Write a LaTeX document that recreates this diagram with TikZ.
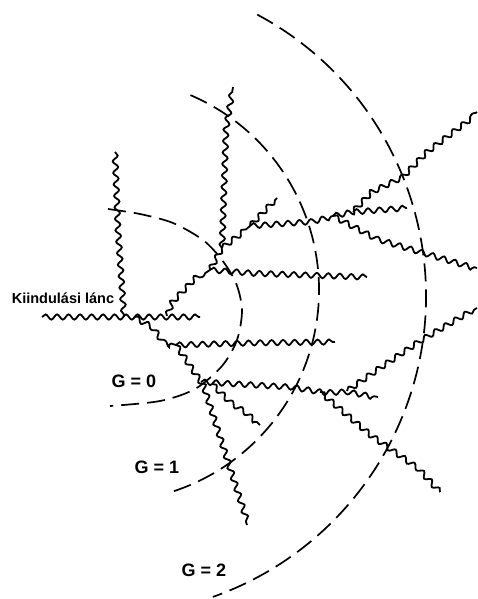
\documentclass[tikz,border=0pt]{standalone}
\usepackage{fontspec}
\setmainfont{Liberation Sans}
\usetikzlibrary{decorations.pathmorphing}

\begin{document}
\begin{tikzpicture}[x=1pt, y=-1pt,
    wavy/.style={decorate, decoration={snake, segment length=11.5pt, amplitude=2.6pt}, line width=1.8pt},
    genarc/.style={dash pattern=on 18pt off 8pt, line width=1.7pt},
    lbl/.style={font=\bfseries\fontsize{18}{20}\selectfont}]
    \useasboundingbox (0,0) rectangle (477,599);

    % elagazasi pontok
    \coordinate (i0) at (42,317);   % kiindulasi lanc eleje
    \coordinate (i1) at (124,317);  % ide fut be a bal fuggoleges lanc
    \coordinate (i2) at (134,317);  % innen indul le a lanc
    \coordinate (i3) at (167,316);  % innen indul fel a lanc
    \coordinate (i4) at (200,317);  % kiindulasi lanc vege
    \coordinate (j1) at (176,345);
    \coordinate (j2) at (201,382);
    \coordinate (j3) at (210,270);
    \coordinate (j4) at (222,248);
    \coordinate (j5) at (320,392);
    \coordinate (j6) at (250,226);
    \coordinate (j7) at (333,216);
    \coordinate (j8) at (353,212);
    \coordinate (j9) at (347,391);
    \coordinate (j10) at (212,384);

    % G = 0, 1, 2 hatarok (szaggatott ivek)
    \draw[genarc] plot[smooth] coordinates {(108,209) (140,214) (173,223) (203,240) (222,260) (236,283) (242,310) (237,340) (222,366) (195,389) (160,401) (110,406)};
    \draw[genarc] (107,290) ++(-66.8:212) arc[start angle=-66.8, end angle=72, radius=212];
    \draw[genarc] (107,296) ++(-61.9:319) arc[start angle=-61.9, end angle=70.6, radius=319];

    % kiindulasi lanc
    \draw[wavy] (i0) -- (i4);
    \draw[wavy] (115,152) -- (118,230) -- (i1); % bal fuggoleges lanc

    % lefele indulo ag
    \draw[wavy] (i2) -- (150,326) -- (160,340) -- (j1);
    \draw[wavy] (j1) -- (250,343) -- (335,342);
    \draw[wavy] (j1) -- (j2) -- (247,525);
    \draw[wavy] (j2) -- (290,387) -- (j5) -- (j9) -- (378,397);
    \draw[wavy] (j10) -- (228,400) -- (245,411) -- (260,425);
    \draw[wavy] (j5) -- (367,432) -- (417,467) -- (440,492);
    \draw[wavy] (j9) -- (377,370) -- (417,343) -- (477,308);

    % felfele indulo ag
    \draw[wavy] (i3) -- (172,303) -- (193,281) -- (j3);
    \draw[wavy] (j3) -- (250,273) -- (367,277);
    \draw[wavy] (j3) -- (j4);
    \draw[wavy] (j4) -- (226,130) -- (233,87); % jobb fuggoleges lanc
    \draw[wavy] (j4) -- (238,236) -- (j6);
    \draw[wavy] (j6) -- (277,198);
    \draw[wavy] (j6) -- (307,222) -- (j7);
    \draw[wavy] (j7) -- (j8) -- (373,191) -- (400,178) -- (427,150) -- (477,112);
    \draw[wavy] (j8) -- (407,208);
    \draw[wavy] (j7) -- (373,237) -- (420,251) -- (477,268);

    % feliratok
    \node[font=\bfseries\fontsize{14.5}{16}\selectfont] (kl) at (63,298) {Kiindulási lánc};
    \node[lbl] (g0) at (134,381) {G = 0};
    \node[lbl] (g1) at (157,467) {G = 1};
    \node[lbl] (g2) at (204,570) {G = 2};
\end{tikzpicture}
\end{document}
